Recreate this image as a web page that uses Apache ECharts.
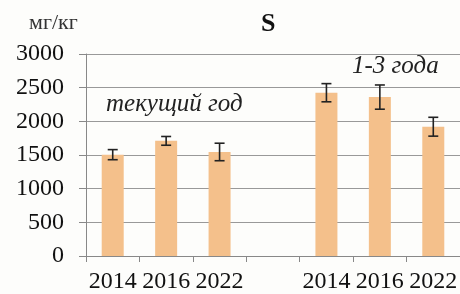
<!DOCTYPE html>
<html><head><meta charset="utf-8">
<script src="https://cdn.jsdelivr.net/npm/echarts@6/dist/echarts.min.js"></script>
<style>html,body{margin:0;padding:0;background:#fdfdfb}#c{width:460px;height:294px}</style>
</head><body><div id="c"></div>
<script>
const categories = ['2014','2016','2022','','2014','2016','2022'];
const values = [1505, 1710, 1545, null, 2425, 2360, 1920];
const errors = [75, 65, 130, null, 135, 180, 140];
const yTicks = [0, 500, 1000, 1500, 2000, 2500, 3000];
const unitLabel = 'мг/кг';
const titleText = 'S';
const groupLabels = ['текущий год', '1-3 года'];

const errData = values.map((v, i) => v == null ? null : [i, v - errors[i], v + errors[i]]).filter(d => d);
const serif = '"Liberation Serif", "DejaVu Serif", serif';
const chart = echarts.init(document.getElementById('c'));
chart.setOption({
  backgroundColor: '#fdfdfb',
  animation: false,
  grid: {left: 86, top: 54, right: -5, bottom: 38},
  graphic: [
    {type: 'text', left: 261, top: 11, style: {text: titleText, fontFamily: serif, fontSize: 26, fontWeight: 'bold', fill: '#111'}},
    {type: 'text', left: 29, top: 12, style: {text: unitLabel, fontFamily: serif, fontSize: 22, fill: '#333'}},
    {type: 'text', left: 106, top: 92, style: {text: groupLabels[0], fontFamily: serif, fontStyle: 'italic', fontSize: 25, fill: '#222'}},
    {type: 'text', left: 352, top: 54, style: {text: groupLabels[1], fontFamily: serif, fontStyle: 'italic', fontSize: 25, fill: '#222'}}
  ],
  xAxis: {
    type: 'category', data: categories,
    axisLine: {lineStyle: {color: '#888', width: 1}},
    axisTick: {show: true, length: 6, lineStyle: {color: '#888'}},
    axisLabel: {fontFamily: serif, fontSize: 24, color: '#111', margin: 14, interval: 0}
  },
  yAxis: {
    type: 'value', min: yTicks[0], max: yTicks[yTicks.length - 1], interval: 500,
    axisLine: {show: true, lineStyle: {color: '#888', width: 1}},
    axisTick: {show: true, length: 7, lineStyle: {color: '#888'}},
    splitLine: {lineStyle: {color: '#999', width: 1}},
    axisLabel: {fontFamily: serif, fontSize: 24, color: '#111', margin: 22, formatter: v => String(v)}
  },
  series: [
    {type: 'bar', data: values, barWidth: 22, itemStyle: {color: '#f4c08b'}},
    {type: 'custom', data: errData, z: 5,
      renderItem: function (params, api) {
        const x = api.value(0);
        const lo = api.coord([x, api.value(1)]);
        const hi = api.coord([x, api.value(2)]);
        const w = 5;
        const st = {stroke: '#222', lineWidth: 1.6};
        return {type: 'group', children: [
          {type: 'line', shape: {x1: lo[0], y1: lo[1], x2: hi[0], y2: hi[1]}, style: st},
          {type: 'line', shape: {x1: lo[0] - w, y1: lo[1], x2: lo[0] + w, y2: lo[1]}, style: st},
          {type: 'line', shape: {x1: hi[0] - w, y1: hi[1], x2: hi[0] + w, y2: hi[1]}, style: st}
        ]};
      }
    }
  ]
});
</script></body></html>
